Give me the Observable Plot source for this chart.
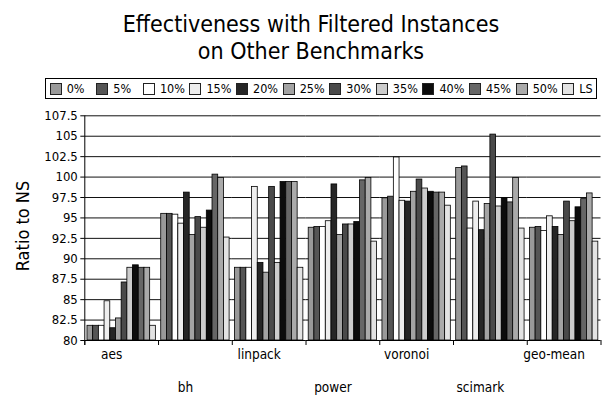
<!DOCTYPE html>
<html><head><meta charset="utf-8">
<script src="https://cdn.jsdelivr.net/npm/d3@7"></script>
<script src="https://cdn.jsdelivr.net/npm/@observablehq/plot@0.6"></script>
<style>
body{margin:0;background:#fff;font-family:"DejaVu Sans Condensed","DejaVu Sans",sans-serif;color:#000;}
#wrap{width:602px;height:400px;position:relative;overflow:hidden;background:#fff;}
#title{position:absolute;left:20px;top:10.5px;width:582px;text-align:center;font-size:23px;line-height:27px;font-stretch:condensed;}
#legend{position:absolute;left:45px;top:78px;width:552px;height:21px;box-sizing:border-box;border:1px solid #000;display:flex;align-items:center;padding-left:3.7px;font-size:12.5px;font-stretch:condensed;}
.item{width:46.6px;flex:none;display:flex;align-items:center;white-space:nowrap;}
.sw{width:12px;height:12px;box-sizing:border-box;border:1px solid #222;margin-right:5px;flex:none;}
#ylab{position:absolute;left:21.7px;top:226px;transform:translate(-50%,-50%) rotate(-90deg);font-size:18px;white-space:nowrap;font-stretch:condensed;}
#chart{position:absolute;left:0;top:108px;}
</style></head>
<body>
<div id="wrap">
  <div id="title">Effectiveness with Filtered Instances<br>on Other Benchmarks</div>
  <div id="legend"></div>
  <div id="ylab">Ratio to NS</div>
  <div id="chart"></div>
</div>
<script>
const groups = ["aes", "bh", "linpack", "power", "voronoi", "scimark", "geo-mean"];
const series = ["0%", "5%", "10%", "15%", "20%", "25%", "30%", "35%", "40%", "45%", "50%", "LS"];
const colors = ["#999999", "#555555", "#ffffff", "#eeeeee", "#262626", "#a3a3a3", "#4a4a4a", "#cccccc", "#0c0c0c", "#666666", "#aaaaaa", "#e3e3e3"];
const yTicks = [80, 82.5, 85, 87.5, 90, 92.5, 95, 97.5, 100, 102.5, 105, 107.5];

const aes      = [81.8, 81.8, 81.8, 84.8, 81.5, 82.7, 87.1, 88.9, 89.2, 88.9, 88.9, 81.8];
const bh       = [95.5, 95.5, 95.4, 94.3, 98.1, 92.9, 95.1, 93.8, 95.9, 100.3, 99.9, 92.6];
const linpack  = [88.9, 88.9, 88.9, 98.8, 89.5, 88.3, 98.8, 89.5, 99.4, 99.4, 99.4, 88.9];
const power    = [93.8, 93.9, 93.9, 94.6, 99.1, 92.9, 94.2, 94.2, 94.5, 99.6, 99.9, 92.1];
const voronoi  = [97.4, 97.6, 102.4, 97.1, 97.0, 98.2, 99.7, 98.6, 98.2, 98.1, 98.1, 96.5];
const scimark  = [101.1, 101.3, 93.7, 97.0, 93.5, 96.7, 105.2, 96.4, 97.4, 96.9, 99.9, 93.7];
const geomean  = [93.8, 93.9, 93.4, 95.2, 93.9, 92.9, 97.0, 94.6, 96.3, 97.3, 98.0, 92.1];

const seriesByGroup = [aes, bh, linpack, power, voronoi, scimark, geomean];
const table = groups.flatMap((g, gi) => series.map((s, si) => ({group: g, series: s, value: seriesByGroup[gi][si]})));

// legend
const legend = document.getElementById("legend");
series.forEach((s, i) => {
  const it = document.createElement("div"); it.className = "item";
  const sw = document.createElement("div"); sw.className = "sw"; sw.style.background = colors[i];
  const tx = document.createElement("span"); tx.textContent = s;
  it.appendChild(sw); it.appendChild(tx); legend.appendChild(it);
});

const H = 292, MT = 7.3, MB = 60;
const plotH = H - MT - MB;
const font = '"DejaVu Sans Condensed","DejaVu Sans",sans-serif';

const chart = Plot.plot({
  width: 602, height: H,
  marginTop: MT, marginBottom: MB, marginLeft: 84.3, marginRight: 1.5,
  style: {fontFamily: font, fontSize: "13px", color: "#000", background: "transparent", overflow: "visible"},
  fx: {domain: groups, padding: 0, round: false, axis: null},
  x: {domain: series, paddingInner: 0, paddingOuter: 0.47, round: false, axis: null},
  y: {domain: [yTicks[0], yTicks[yTicks.length - 1]], axis: null},
  color: {domain: series, range: colors},
  marks: [
    Plot.ruleY(yTicks.slice(1), {stroke: "#111", strokeWidth: 1}),
    Plot.barY(table, {fx: "group", x: "series", y1: yTicks[0], y2: "value", fill: "series", stroke: "#000", strokeWidth: 0.8}),
    Plot.ruleY([yTicks[0]], {stroke: "#000", strokeWidth: 1}),
    Plot.frame({anchor: "left", facetAnchor: "left", insetBottom: -4, stroke: "#000"}),
    Plot.frame({anchor: "left", insetTop: plotH, insetBottom: -4, stroke: "#000"}),
    Plot.frame({anchor: "right", facetAnchor: "right", insetTop: plotH, insetBottom: -4, stroke: "#000"}),
    Plot.axisY({ticks: yTicks, tickSize: 4, tickPadding: 3, tickFormat: d => String(d), label: null, fontSize: 13}),
    Plot.axisFx({anchor: "bottom", tickSize: 0, tickPadding: 9, dx: -10, fontSize: 13.5, label: null,
      tickFormat: d => groups.indexOf(d) % 2 ? "" : d}),
    Plot.axisFx({anchor: "bottom", tickSize: 0, tickPadding: 42, dx: -10, fontSize: 13.5, label: null,
      tickFormat: d => groups.indexOf(d) % 2 ? d : ""})
  ]
});
document.getElementById("chart").appendChild(chart);
</script>
</body></html>
